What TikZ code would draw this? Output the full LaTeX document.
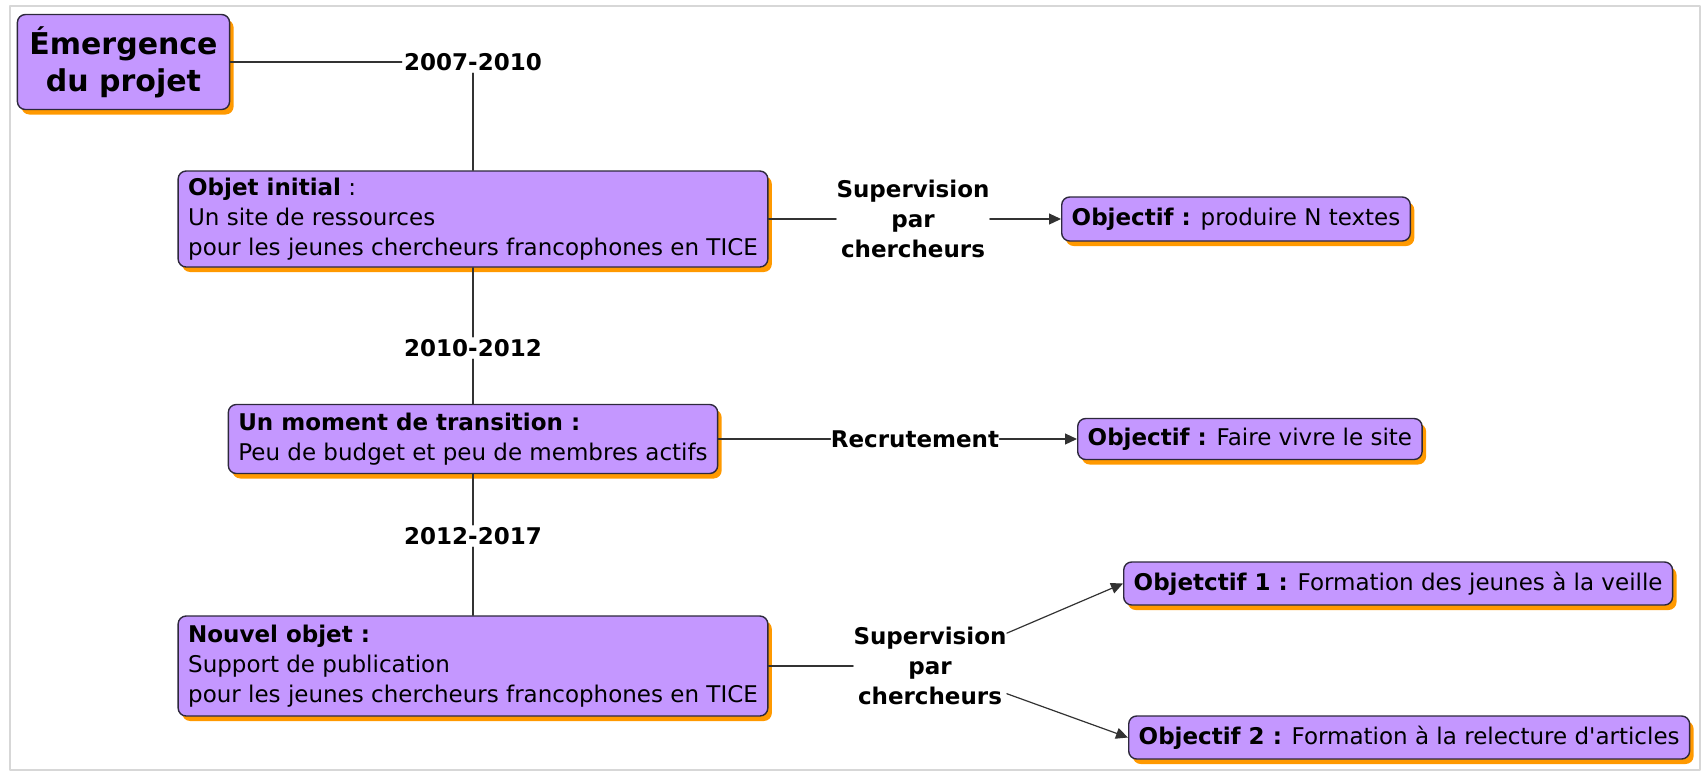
\documentclass[tikz,border=0pt]{standalone}
\usepackage{fontspec}
\setmainfont{DejaVu Sans}[Ligatures=TeXOff]
\usetikzlibrary{arrows.meta,shadows}
\definecolor{violetboite}{RGB}{196,151,255}
\definecolor{ombre}{RGB}{255,153,0}
\definecolor{bord}{RGB}{45,40,60}
\definecolor{trait}{RGB}{50,50,50}
\definecolor{cadre}{RGB}{215,215,215}
\newcommand{\corps}{\fontsize{11.5pt}{15pt}\selectfont}
\tikzset{
  boite/.style={draw=bord,fill=violetboite,line width=.7pt,rounded corners=4pt,
    drop shadow={shadow xshift=2pt,shadow yshift=-2.5pt,fill=ombre,opacity=1},
    inner xsep=5pt,inner ysep=3pt,align=left,font=\corps},
  periode/.style={font=\corps\bfseries,inner sep=1pt},
  etiquette/.style={font=\corps\bfseries,align=center,inner sep=0pt},
  lien/.style={draw=trait,line width=.6pt}
}
\begin{document}
\begin{tikzpicture}[x=.5pt,y=-.5pt,>={Triangle[length=6pt,width=5.5pt]},line join=round,line cap=round]
		\useasboundingbox (0,0) rectangle (1704,773);
		\draw[cadre,line width=1pt] (10,6) rectangle (1700,770);
		%Frise chronologique
		\node[boite,font=\fontsize{15pt}{18.5pt}\selectfont\bfseries,align=center,inner xsep=6pt,minimum height=47.5pt] (emerg) at (123.5,62) {Émergence\\du projet};
		\node[periode] (p1) at (473,62) {2007-2010};
		\node[boite,minimum height=48pt] (objet) at (473,219) {\textbf{Objet initial} :\\Un site de ressources\\pour les jeunes chercheurs francophones en TICE};
		\node[periode] (p2) at (473,348) {2010-2012};
		\node[boite,minimum height=34.5pt] (trans) at (473,439) {\textbf{Un moment de transition :}\\Peu de budget et peu de membres actifs};
		\node[periode] (p3) at (473,536) {2012-2017};
		\node[boite,minimum height=50pt] (nouvel) at (473,666) {\textbf{Nouvel objet :}\\Support de publication\\pour les jeunes chercheurs francophones en TICE};
		\draw[lien] (emerg) -- (p1) (p1) -- (objet) -- (p2) -- (trans) -- (p3) -- (nouvel);
		%Objectifs
		\node[etiquette] (sup1) at (913,219) {Supervision\\par\\chercheurs};
		\node[boite,minimum height=22pt,anchor=west] (obj1) at (1061,219) {\textbf{Objectif :} produire N textes};
		\node[etiquette] (recr) at (915,439) {Recrutement};
		\node[boite,minimum height=20.5pt,anchor=west] (obj2) at (1077,439) {\textbf{Objectif :} Faire vivre le site};
		\node[etiquette] (sup2) at (930,666) {Supervision\\par\\chercheurs};
		\node[boite,minimum height=21.5pt,anchor=west] (obj3) at (1123,583.5) {\textbf{Objetctif 1 :} Formation des jeunes à la veille};
		\node[boite,minimum height=21.5pt,anchor=west] (obj4) at (1128,737.5) {\textbf{Objectif 2 :} Formation à la relecture d'articles};
		\draw[lien] (objet) -- (sup1) (trans) -- (recr) (nouvel) -- (sup2);
		\draw[lien,->] (sup1) -- (obj1);
		\draw[lien,->] (recr) -- (obj2);
		\draw[lien,->] (sup2) -- (obj3.west);
		\draw[lien,->] (sup2) -- (obj4.west);
\end{tikzpicture}
\end{document}
